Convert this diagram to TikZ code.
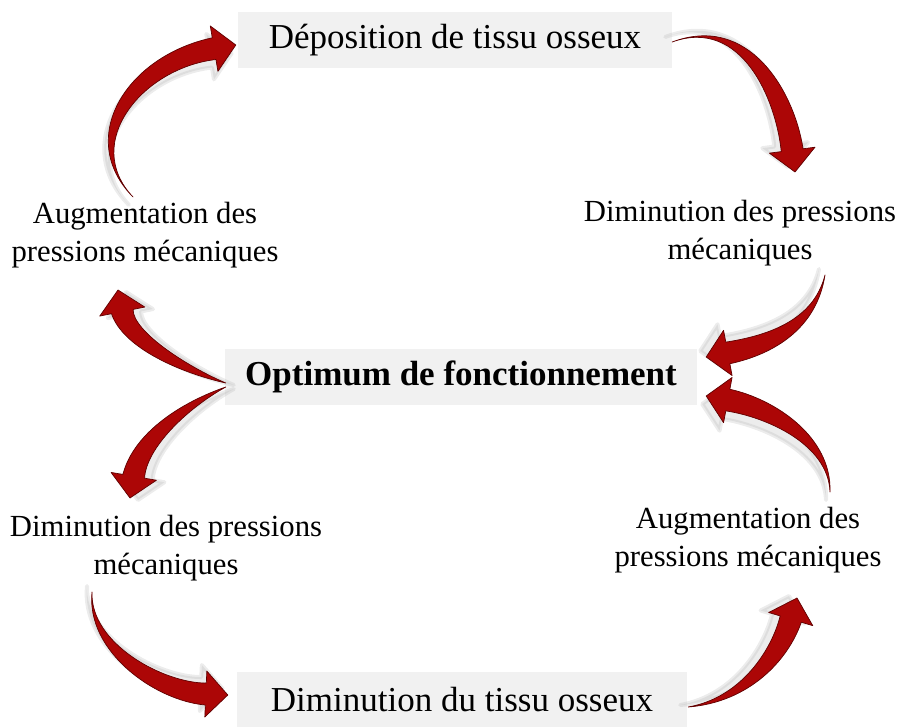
\documentclass[tikz,border=0pt]{standalone}
\usepackage{fontspec}
\setmainfont{Liberation Serif}
\usetikzlibrary{calc}

\definecolor{arrowred}{RGB}{172,6,6}
\definecolor{arrowedge}{RGB}{95,0,0}
\definecolor{boxgray}{RGB}{241,241,241}

% fleche rouge effilee : [ombre] {queue} {c1} {c2} {pointe}
\newcommand{\redarrow}[5][0,0]{%
  \coordinate (ra-e)  at ($(#5)!22pt!(#4)$);
  \coordinate (ra-ea) at ($(ra-e)!11pt!90:(#4)$);
  \coordinate (ra-eb) at ($(ra-e)!11pt!-90:(#4)$);
  \coordinate (ra-ha) at ($(ra-e)!23pt!90:(#4)$);
  \coordinate (ra-hb) at ($(ra-e)!23pt!-90:(#4)$);
  \coordinate (ra-1a) at ($(#3)!4pt!-90:(#4)$);
  \coordinate (ra-1b) at ($(#3)!4pt!90:(#4)$);
  \coordinate (ra-2a) at ($(#4)!10pt!90:(#3)$);
  \coordinate (ra-2b) at ($(#4)!10pt!-90:(#3)$);
  \filldraw[arrowshade, transform canvas={shift={(#1)}}]
    (#2) .. controls (ra-1a) and (ra-2a) .. (ra-ea) -- (ra-ha) -- (#5)
    -- (ra-hb) -- (ra-eb) .. controls (ra-2b) and (ra-1b) .. (#2) -- cycle;
  \filldraw[arrowbody]
    (#2) .. controls (ra-1a) and (ra-2a) .. (ra-ea) -- (ra-ha) -- (#5)
    -- (ra-hb) -- (ra-eb) .. controls (ra-2b) and (ra-1b) .. (#2) -- cycle;
}

\begin{document}
\begin{tikzpicture}[x=1pt, y=-1pt,
    stepbox/.style={fill=boxgray, minimum height=56, inner sep=0pt,
        font=\fontsize{35}{40}\selectfont},
    sidelabel/.style={align=center, inner sep=0pt,
        font=\fontsize{30.7}{38}\selectfont},
    arrowbody/.style={fill=arrowred, draw=arrowedge, line width=0.7pt, line join=round},
    arrowshade/.style={fill=black!30, draw=black!30, line width=4pt,
        opacity=0.25, line join=round}]

\useasboundingbox (0,0) rectangle (897,727);

% Boites
\node[stepbox, minimum width=434] (top) at (455,40) {Déposition de tissu osseux};
\node[stepbox, minimum width=472, font=\fontsize{35}{40}\selectfont\bfseries]
    (mid) at (461,377) {Optimum de fonctionnement};
\node[stepbox, minimum width=450] (bot) at (462,700)
    {Diminution du tissu osseux\hspace{22pt}};

% Etiquettes laterales
\node[sidelabel] (lu) at (145,235) {Augmentation des\\pressions mécaniques};
\node[sidelabel] (ru) at (740,233) {Diminution des pressions\\mécaniques};
\node[sidelabel] (ll) at (166,548) {Diminution des pressions\\mécaniques};
\node[sidelabel] (lr) at (748,540) {Augmentation des\\pressions mécaniques};

% Points des fleches
\coordinate (a1-t) at (133,197);
\coordinate (a1-p) at ($(top.west)+(-2,5)$);
\coordinate (a2-t) at ($(top.east)+(0,2)$);
\coordinate (a2-p) at (795,172);
\coordinate (a3-t) at (825,275);
\coordinate (a3-p) at ($(mid.east)+(9,-20)$);
\coordinate (a4-t) at (830,492);
\coordinate (a4-p) at ($(mid.east)+(9,19)$);
\coordinate (a5-t) at ($(mid.west)+(1,6)$);
\coordinate (a5-p) at (118,290);
\coordinate (a6-t) at ($(mid.west)+(1,10)$);
\coordinate (a6-p) at (130,498);
\coordinate (a7-t) at (92,592);
\coordinate (a7-p) at ($(bot.west)+(-9,-5)$);
\coordinate (a8-t) at ($(bot.east)+(1,7)$);
\coordinate (a8-p) at (797,598);

% Fleches
\redarrow[-4,8]{a1-t}{78,140}{135,62}{a1-p}
\redarrow[-7,-5]{a2-t}{745,15}{785,95}{a2-p}
\redarrow[-6,-6]{a3-t}{815,325}{770,345}{a3-p}
\redarrow[-4,8]{a4-t}{830,440}{770,408}{a4-p}
\redarrow[8,2]{a5-t}{185,370}{128,340}{a5-p}
\redarrow[8,2]{a6-t}{185,405}{140,440}{a6-p}
\redarrow[-5,-6]{a7-t}{88,648}{160,692}{a7-p}
\redarrow[-8,-2]{a8-t}{745,700}{780,655}{a8-p}

\end{tikzpicture}
\end{document}
